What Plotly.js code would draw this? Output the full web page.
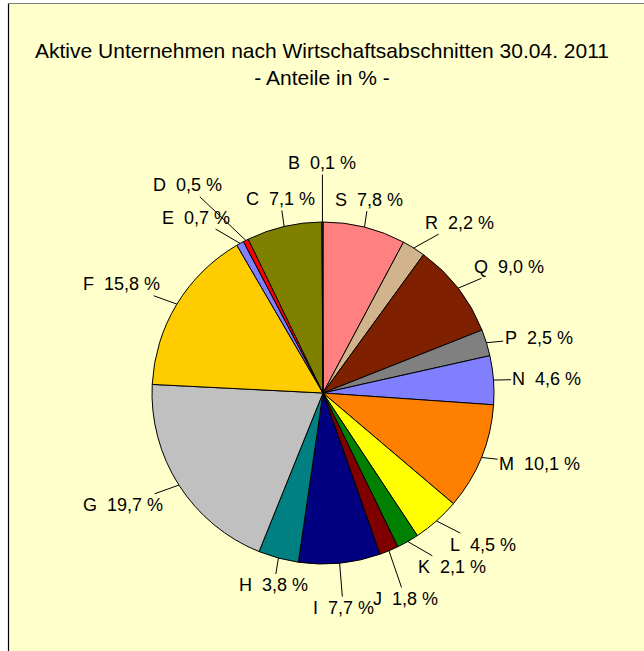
<!DOCTYPE html>
<html>
<head>
<meta charset="utf-8">
<script src="https://cdn.plot.ly/plotly-3.0.1.min.js"></script>
<style>
  html, body { margin: 0; padding: 0; background: #ffffff; }
  #chart { width: 644px; height: 651px; }
</style>
</head>
<body>
<div id="chart"></div>
<script>
// ---- data ----
const sections = ['S', 'R', 'Q', 'P', 'N', 'M', 'L', 'K', 'J', 'I', 'H', 'G', 'F', 'E', 'D', 'C', 'B'];
const shares   = [7.8, 2.2, 9.0, 2.5, 4.6, 10.1, 4.5, 2.1, 1.8, 7.7, 3.8, 19.7, 15.8, 0.7, 0.5, 7.1, 0.1];
const sliceColors = ['#FF8080', '#D2B48C', '#7F2000', '#808080', '#8080FF', '#FF8000', '#FFFF00',
                     '#008000', '#800000', '#000080', '#008080', '#C0C0C0', '#FFCC00', '#8080FF',
                     '#FF0000', '#808000', '#404040'];
const titleLines = ['Aktive Unternehmen nach Wirtschaftsabschnitten 30.04. 2011', '- Anteile in % -'];

// ---- layout constants ----
const W = 644, H = 651;
const CX = 323, CY = 393, R = 171;
const FONT = 'Liberation Sans, Arial, Helvetica, sans-serif';
const LABEL_SIZE = 18;
// labels that were dragged away manually in the original (pixel nudges)
const labelNudge = { B: [0, -31], D: [-14, -29], I: [2, 17], J: [-24.5, 21.5] };

const canvas = document.createElement('canvas');
const ctx = canvas.getContext('2d');
ctx.font = LABEL_SIZE + "px 'Liberation Sans'";

function fmt(v) { return v.toFixed(1).replace('.', ','); }

const total = shares.reduce((a, b) => a + b, 0);
let cum = 0;
const annotations = [];
sections.forEach((s, i) => {
  const mid = (cum + shares[i] / 2) / total;
  cum += shares[i];
  const th = 2 * Math.PI * mid;
  const ux = Math.sin(th), uy = -Math.cos(th);
  const ex = CX + R * ux, ey = CY + R * uy;
  const d = 17;
  const text = s + '\u00a0 ' + fmt(shares[i]) + ' %';
  const w = ctx.measureText(text).width;
  const hx = Math.abs(ux) > 0.3 ? Math.sign(ux) * (w / 2 + 2) : 0;
  const vy = Math.abs(uy) > 0.45 ? Math.sign(uy) * 11 : 0;
  let tx = ex + d * ux + hx, ty = ey + d * uy + vy;
  if (labelNudge[s]) { tx += labelNudge[s][0]; ty += labelNudge[s][1]; }
  annotations.push({
    x: ex / W, y: 1 - ey / H, xref: 'paper', yref: 'paper',
    ax: tx - ex, ay: ty - ey, axref: 'pixel', ayref: 'pixel',
    text: text, showarrow: true, arrowhead: 0, arrowwidth: 1, arrowcolor: '#000000',
    standoff: 0, startstandoff: 0,
    font: { family: FONT, size: LABEL_SIZE, color: '#000000' }
  });
});

const trace = {
  type: 'pie',
  labels: sections,
  values: shares,
  sort: false,
  direction: 'clockwise',
  rotation: 0,
  textinfo: 'none',
  hoverinfo: 'label+value',
  marker: { colors: sliceColors, line: { color: '#000000', width: 1 } },
  domain: { x: [(CX - R) / W, (CX + R) / W], y: [(H - CY - R) / H, (H - CY + R) / H] },
  showlegend: false
};

const layout = {
  width: W, height: H,
  margin: { l: 0, r: 0, t: 0, b: 0 },
  paper_bgcolor: '#ffffff',
  plot_bgcolor: '#ffffff',
  showlegend: false,
  title: {
    text: titleLines.join('<br>'),
    font: { family: FONT, size: 21, color: '#000000' },
    x: 0.5, xanchor: 'center', xref: 'paper',
    y: 1 - 58 / H, yanchor: 'top', yref: 'container'
  },
  shapes: [
    { type: 'rect', xref: 'paper', yref: 'paper', x0: 8 / W, x1: 1.02, y0: -0.02, y1: 1 - 3 / H,
      fillcolor: '#FFFFCC', line: { width: 0 }, layer: 'below' },
    { type: 'line', xref: 'paper', yref: 'paper', x0: 8.5 / W, x1: 8.5 / W, y0: -0.02, y1: 1 - 3 / H,
      line: { color: '#000000', width: 1.2 }, layer: 'below' },
    { type: 'line', xref: 'paper', yref: 'paper', x0: 8 / W, x1: 1.02, y0: 1 - 3.5 / H, y1: 1 - 3.5 / H,
      line: { color: '#7F7F7F', width: 1 }, layer: 'below' }
  ],
  annotations: annotations
};

Plotly.newPlot('chart', [trace], layout, { staticPlot: true, displayModeBar: false });
</script>
</body>
</html>
